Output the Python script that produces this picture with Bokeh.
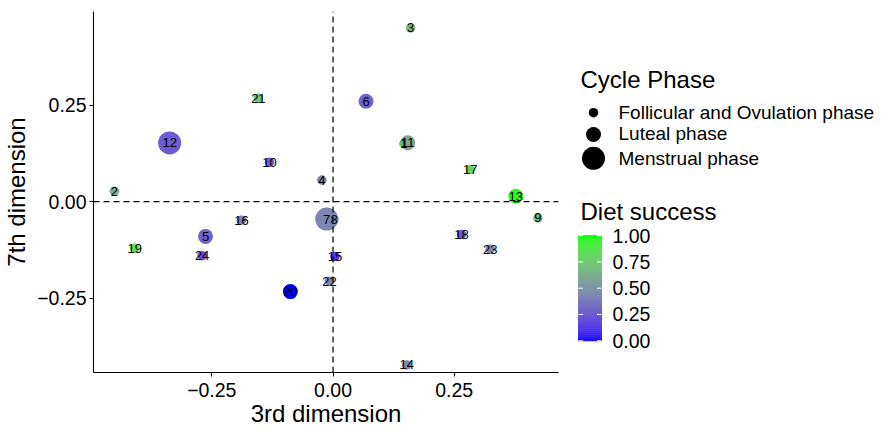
import numpy as np
from bokeh.plotting import figure
from bokeh.models import Range1d, FixedTicker, CustomJSTickFormatter, ColumnDataSource
from bokeh.transform import linear_cmap
from bokeh.core.properties import value
from bokeh.layouts import row
from bokeh.embed import file_html
from bokeh.resources import INLINE

# ---------------- data ----------------
point_id = [1, 2, 3, 4, 5, 6, 7, 8, 9, 10, 11, 12,
            13, 14, 15, 16, 17, 18, 19, 20, 21, 22, 23, 24]
dim3 = [0.146, -0.451, 0.160, -0.023, -0.263, 0.068, -0.013, 0.002, 0.4225, -0.131, 0.154, -0.337,
        0.377, 0.152, 0.004, -0.189, 0.283, 0.265, -0.409, -0.088, -0.154, -0.0075, 0.324, -0.270]
dim7 = [0.150, 0.027, 0.450, 0.056, -0.090, 0.260, -0.045, -0.045, -0.042, 0.102, 0.1525, 0.152,
        0.014, -0.423, -0.142, -0.048, 0.083, -0.085, -0.121, -0.233, 0.2675, -0.206, -0.123, -0.140]
diet_success = [0.95, 0.62, 0.68, 0.42, 0.28, 0.28, 0.44, 0.44, 0.68, 0.25, 0.58, 0.25,
                0.97, 0.45, 0.12, 0.42, 0.82, 0.25, 0.85, 0.00, 0.72, 0.46, 0.45, 0.20]
FOL, LUT, MEN = "Follicular and Ovulation phase", "Luteal phase", "Menstrual phase"
cycle_phase = [FOL, FOL, FOL, FOL, LUT, LUT, MEN, FOL, FOL, FOL, LUT, MEN,
               LUT, FOL, FOL, FOL, FOL, FOL, FOL, LUT, FOL, FOL, FOL, FOL]

PHASES = [FOL, LUT, MEN]
PHASE_SIZE = {FOL: 9.5, LUT: 15, MEN: 23}
X_TICKS = [-0.25, 0.0, 0.25]
Y_TICKS = [-0.25, 0.0, 0.25]
CB_TICKS = [0.0, 0.25, 0.5, 0.75, 1.0]
CB_LABELS = ["0.00", "0.25", "0.50", "0.75", "1.00"]
X_LIM = (-0.494, 0.465)
Y_LIM = (-0.4425, 0.4925)

FONT = "Liberation Sans"

# ---------------- Lab gradient (blue -> green) ----------------
_M = np.array([[0.4124564, 0.3575761, 0.1804375],
               [0.2126729, 0.7151522, 0.0721750],
               [0.0193339, 0.1191920, 0.9503041]])
_MI = np.linalg.inv(_M)
_WHITE = np.array([0.95047, 1.0, 1.08883])


def hex_to_lab(h):
    c = np.array([int(h[i:i + 2], 16) for i in (1, 3, 5)]) / 255.0
    lin = np.where(c <= 0.04045, c / 12.92, ((c + 0.055) / 1.055) ** 2.4)
    xyz = _M @ lin / _WHITE
    d = 6 / 29
    f = np.where(xyz > d ** 3, np.cbrt(xyz), xyz / (3 * d * d) + 4 / 29)
    return np.array([116 * f[1] - 16, 500 * (f[0] - f[1]), 200 * (f[1] - f[2])])


def lab_to_hex(lab):
    L, a, b = lab
    fy = (L + 16) / 116
    f = np.array([fy + a / 500, fy, fy - b / 200])
    d = 6 / 29
    xyz = np.where(f > d, f ** 3, 3 * d * d * (f - 4 / 29)) * _WHITE
    lin = np.clip(_MI @ xyz, 0, 1)
    c = np.where(lin <= 0.0031308, 12.92 * lin, 1.055 * lin ** (1 / 2.4) - 0.055)
    c = np.clip(np.round(c * 255), 0, 255).astype(int)
    return "#%02x%02x%02x" % tuple(c)


LOW, HIGH = hex_to_lab("#0000ff"), hex_to_lab("#00ff00")
PALETTE = [lab_to_hex(LOW + (HIGH - LOW) * t) for t in np.linspace(0, 1, 256)]

# ---------------- layout constants (screen px) ----------------
W_TOTAL, H_TOTAL = 876, 429
P_W = 568
B_LEFT, B_RIGHT, B_TOP, B_BOTTOM = 92, 10, 11, 54
FT, FB = B_TOP, H_TOTAL - B_BOTTOM

# ---------------- main plot ----------------
p = figure(width=P_W, height=H_TOTAL,
           x_range=Range1d(*X_LIM), y_range=Range1d(*Y_LIM),
           output_backend="svg", toolbar_location=None,
           min_border_left=B_LEFT, min_border_right=B_RIGHT,
           min_border_top=B_TOP, min_border_bottom=B_BOTTOM)
p.outline_line_color = None
p.grid.visible = False
p.background_fill_color = "white"
p.border_fill_color = "white"

src = ColumnDataSource(dict(
    x=dim3, y=dim7, lab=[str(i) for i in point_id], diet=diet_success,
    size=[PHASE_SIZE[ph] for ph in cycle_phase]))
cmap = linear_cmap("diet", PALETTE, 0, 1)
p.scatter("x", "y", size="size", source=src, fill_color=cmap, line_color=None)

p.segment(x0=[0, X_LIM[0]], y0=[Y_LIM[0], 0], x1=[0, X_LIM[1]], y1=[Y_LIM[1], 0],
          line_color="black", line_width=1.2, line_dash="6 4")

p.text("x", "y", text="lab", source=src, text_align="center", text_baseline="middle",
       text_font=value(FONT), text_font_size="13px", text_color="black")

fmt = CustomJSTickFormatter(code="return (tick < 0 ? '\u2212' : '') + Math.abs(tick).toFixed(2);")
p.xaxis.ticker = FixedTicker(ticks=X_TICKS)
p.yaxis.ticker = FixedTicker(ticks=Y_TICKS)
p.xaxis.axis_label = "3rd dimension"
p.yaxis.axis_label = "7th dimension"
for ax in (p.xaxis[0], p.yaxis[0]):
    ax.formatter = fmt
    ax.minor_tick_line_color = None
    ax.major_tick_in = 0
    ax.major_tick_out = 4
    ax.axis_line_width = 1.1
    ax.major_tick_line_width = 1.1
    ax.axis_line_color = "black"
    ax.major_tick_line_color = "black"
    ax.major_label_text_font = FONT
    ax.major_label_text_font_size = "19.5px"
    ax.major_label_text_color = "black"
    ax.axis_label_text_font = FONT
    ax.axis_label_text_font_size = "24px"
    ax.axis_label_text_font_style = "normal"
    ax.axis_label_text_color = "black"
p.xaxis.major_label_standoff = 6
p.xaxis.axis_label_standoff = 0
p.yaxis.major_label_standoff = 3
p.yaxis.axis_label_standoff = 4

# ---------------- legend panel (data units == screen px) ----------------
leg = figure(width=W_TOTAL - P_W, height=H_TOTAL,
             x_range=Range1d(P_W, W_TOTAL), y_range=Range1d(start=FB, end=FT),
             output_backend="svg", toolbar_location=None,
             x_axis_location=None, y_axis_location=None,
             min_border_left=0, min_border_right=0,
             min_border_top=B_TOP, min_border_bottom=B_BOTTOM)
leg.outline_line_color = None
leg.grid.visible = False
leg.background_fill_color = "white"
leg.border_fill_color = "white"

TXT = dict(text_font=value(FONT), text_color="black", text_baseline="middle")

# size legend
leg.text(x=[580], y=[79.5], text=["Cycle Phase"], text_font_size="24px", **TXT)
item_y = [113, 135, 159]
leg.scatter(x=[593] * 3, y=item_y,
            size=[PHASE_SIZE[ph] for ph in PHASES], fill_color="black", line_color=None)
leg.text(x=[618] * 3, y=[113.3, 134.3, 159.3], text=PHASES, text_font_size="19px", **TXT)

# colour bar
leg.text(x=[580], y=[213], text=["Diet success"], text_font_size="24px", **TXT)
CB_L, CB_R, CB_B, CB_T = 578, 601, 343, 237
n = 53
edges = np.linspace(0, 1, n + 1)
cb_src = ColumnDataSource(dict(
    left=[CB_L] * n, right=[CB_R] * n,
    bottom=[CB_B - (CB_B - CB_T) * e for e in edges[:-1]],
    top=[CB_B - (CB_B - CB_T) * e for e in edges[1:]],
    v=list((edges[:-1] + edges[1:]) / 2)))
cbm = linear_cmap("v", PALETTE, 0, 1)
leg.quad(left="left", right="right", bottom="bottom", top="top", source=cb_src,
         fill_color=cbm, line_color=cbm, line_width=1.0)
tick_y = [CB_B - (CB_B - CB_T) * t for t in CB_TICKS]
leg.segment(x0=[CB_L] * 5, x1=[CB_L + 4.5] * 5, y0=tick_y, y1=tick_y,
            line_color="white", line_width=1)
leg.segment(x0=[CB_R - 4.5] * 5, x1=[CB_R] * 5, y0=tick_y, y1=tick_y,
            line_color="white", line_width=1)
leg.text(x=[612] * 5, y=tick_y, text=CB_LABELS, text_font_size="19.5px", **TXT)

layout = row(p, leg)
open("out.html", "w").write(file_html(layout, INLINE))
